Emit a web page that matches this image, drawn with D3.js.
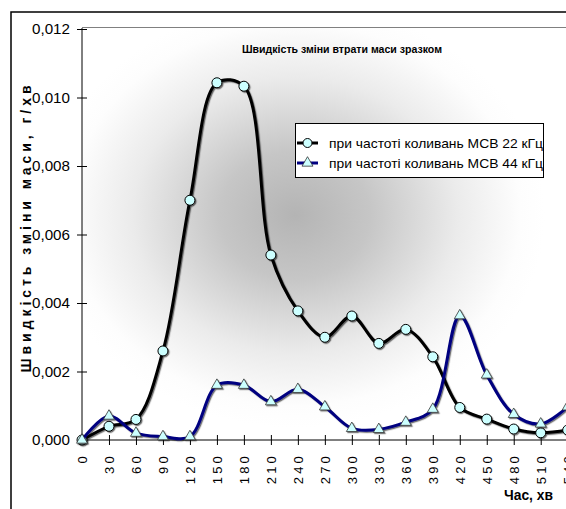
<!DOCTYPE html>
<html>
<head>
<meta charset="utf-8">
<script src="https://cdn.jsdelivr.net/npm/d3@7"></script>
<style>
  html, body { margin: 0; padding: 0; background: #fff; }
  svg { display: block; }
  text { font-family: "Liberation Sans", Arial, sans-serif; }
</style>
</head>
<body>
<svg id="chart" width="566" height="509"></svg>
<script>
// ---- data ----
const times = [0, 30, 60, 90, 120, 150, 180, 210, 240, 270, 300, 330, 360, 390, 420, 450, 480, 510, 540];
const series22 = [0.0000, 0.0004, 0.0006, 0.0026, 0.0070, 0.01043, 0.01033, 0.0054, 0.00377, 0.0030, 0.00362, 0.00282, 0.00323, 0.00243, 0.00095, 0.00061, 0.00032, 0.00021, 0.00029];
const series44 = [0.0000, 0.0007, 0.0002, 0.0001, 0.0001, 0.0016, 0.0016, 0.00112, 0.00148, 0.00097, 0.00034, 0.00031, 0.00052, 0.0009, 0.00363, 0.0019, 0.00075, 0.00047, 0.00097];
const yTicks = [0, 0.002, 0.004, 0.006, 0.008, 0.010, 0.012];
const seriesNames = ["при частоті коливань МСВ 22 кГц", "при частоті коливань МСВ 44 кГц"];
const chartTitle = "Швидкість зміни втрати маси зразком";
const yTitle = "Швидкість зміни маси, г/хв";
const xTitle = "Час, хв";

// ---- layout ----
const svg = d3.select("#chart");
const plot = { x0: 82, x1: 568, y0: 28, y1: 440 };

const x = d3.scaleLinear().domain([0, 540]).range([plot.x0, 567.7]);
const y = d3.scaleLinear().domain([0, 0.012]).range([plot.y1, 29]);

const defs = svg.append("defs");
const grad = defs.append("radialGradient")
  .attr("id", "bg").attr("gradientUnits", "userSpaceOnUse")
  .attr("cx", 295).attr("cy", 215).attr("r", 250)
  .attr("gradientTransform", "translate(295,215) scale(1,0.85) translate(-295,-215)");
grad.append("stop").attr("offset", "0%").attr("stop-color", "#b4b4b4");
grad.append("stop").attr("offset", "30%").attr("stop-color", "#c6c6c6");
grad.append("stop").attr("offset", "65%").attr("stop-color", "#ebebeb");
grad.append("stop").attr("offset", "90%").attr("stop-color", "#fdfdfd");
grad.append("stop").attr("offset", "100%").attr("stop-color", "#ffffff");

const sh = defs.append("filter").attr("id", "shadow")
  .attr("x", "-20%").attr("y", "-20%").attr("width", "140%").attr("height", "140%");
sh.append("feDropShadow").attr("dx", 1.2).attr("dy", 1.2).attr("stdDeviation", 0.6)
  .attr("flood-color", "#000").attr("flood-opacity", 0.55);

// outer chart border
svg.append("rect").attr("x", 11).attr("y", 12).attr("width", 600).attr("height", 520)
  .attr("fill", "#fff").attr("stroke", "#000").attr("stroke-width", 1.5);

// plot area background
svg.append("rect").attr("x", plot.x0).attr("y", plot.y0)
  .attr("width", plot.x1 - plot.x0 + 20).attr("height", plot.y1 - plot.y0)
  .attr("fill", "url(#bg)");
svg.append("line").attr("x1", plot.x0).attr("x2", 600).attr("y1", 27.5).attr("y2", 27.5)
  .attr("stroke", "#808080").attr("stroke-width", 1);

// title
svg.append("text").attr("x", 342).attr("y", 53).attr("text-anchor", "middle")
  .attr("font-size", 11).attr("font-weight", "bold")
  .attr("textLength", 200).attr("lengthAdjust", "spacingAndGlyphs")
  .text(chartTitle);

// y axis
const yAxis = svg.append("g").attr("transform", `translate(${plot.x0},0)`)
  .call(d3.axisLeft(y).tickValues(yTicks).tickSize(5).tickPadding(10)
    .tickFormat(d => d3.format(".3f")(d).replace(".", ",")));
yAxis.select(".domain").attr("stroke", "#000").attr("d", `M0,${plot.y0}V${plot.y1}`);
yAxis.selectAll(".tick line").attr("x1", 5).attr("x2", -5).attr("stroke", "#000");
yAxis.selectAll(".tick text").attr("font-size", 15).attr("fill", "#000")
  .attr("font-family", "'Liberation Sans', Arial, sans-serif").attr("x", -12)
  .attr("textLength", 38).attr("lengthAdjust", "spacingAndGlyphs");

// x axis
const xAxis = svg.append("g").attr("transform", `translate(0,${plot.y1})`)
  .call(d3.axisBottom(x).tickValues(times).tickSize(5).tickFormat(d => String(d)));
xAxis.select(".domain").attr("stroke", "#000").attr("d", `M${plot.x0},0H${plot.x1 + 10}`);
xAxis.selectAll(".tick line").attr("y1", -5).attr("y2", 5).attr("stroke", "#000");
xAxis.selectAll(".tick text")
  .attr("font-size", 13).attr("fill", "#000")
  .attr("font-family", "'Liberation Sans', Arial, sans-serif")
  .attr("letter-spacing", "3.2px")
  .attr("text-anchor", "end")
  .attr("transform", "rotate(-90)")
  .attr("x", -13).attr("y", 0).attr("dy", "0.36em");

// axis titles
svg.append("text").attr("transform", "translate(31,229) rotate(-90)")
  .attr("text-anchor", "middle").attr("font-size", 14).attr("font-weight", "bold")
  .attr("textLength", 287).attr("lengthAdjust", "spacing")
  .text(yTitle);
svg.append("text").attr("x", 504).attr("y", 500)
  .attr("font-size", 15).attr("font-weight", "bold")
  .attr("textLength", 49).attr("lengthAdjust", "spacingAndGlyphs")
  .text(xTitle);

// series
const line = d3.line().x((d, i) => x(times[i])).y(d => y(d)).curve(d3.curveCatmullRom.alpha(0.5));
const triangle = d3.symbol().type(d3.symbolTriangle).size(52);

const g = svg.append("g");
const gBlack = g.append("g").attr("filter", "url(#shadow)");
gBlack.append("path").datum(series22).attr("d", line)
  .attr("fill", "none").attr("stroke", "#000").attr("stroke-width", 3);
const gBlue = g.append("g").attr("filter", "url(#shadow)");
gBlue.append("path").datum(series44).attr("d", line)
  .attr("fill", "none").attr("stroke", "#000080").attr("stroke-width", 3);

gBlack.selectAll("circle").data(series22).join("circle")
  .attr("cx", (d, i) => x(times[i])).attr("cy", d => y(d)).attr("r", 5)
  .attr("fill", "#ccffff").attr("stroke", "#000").attr("stroke-width", 1);
gBlue.selectAll(".tri").data(series44).join("path").attr("class", "tri")
  .attr("d", triangle)
  .attr("transform", (d, i) => `translate(${x(times[i])},${y(d)})`)
  .attr("fill", "#ccffff").attr("stroke", "#333").attr("stroke-width", 0.8);

// legend
const lg = svg.append("g");
lg.append("rect").attr("x", 295.5).attr("y", 123.5).attr("width", 248).attr("height", 54)
  .attr("fill", "#fff").attr("stroke", "#000").attr("stroke-width", 1);
const legendRows = [
  { name: seriesNames[0], color: "#000", marker: "circle", yy: 143 },
  { name: seriesNames[1], color: "#000080", marker: "tri", yy: 163 }
];
legendRows.forEach(r => {
  lg.append("line").attr("x1", 297).attr("x2", 318).attr("y1", r.yy).attr("y2", r.yy)
    .attr("stroke", r.color).attr("stroke-width", 3);
  if (r.marker === "circle") {
    lg.append("circle").attr("cx", 307.5).attr("cy", r.yy).attr("r", 4.5)
      .attr("fill", "#ccffff").attr("stroke", "#000");
  } else {
    lg.append("path").attr("d", triangle).attr("transform", `translate(307.5,${r.yy})`)
      .attr("fill", "#ccffff").attr("stroke", "#333").attr("stroke-width", 0.8);
  }
  lg.append("text").attr("x", 329).attr("y", r.yy + 4.5).attr("font-size", 13)
    .attr("textLength", 214).attr("lengthAdjust", "spacingAndGlyphs")
    .text(r.name);
});
</script>
</body>
</html>
